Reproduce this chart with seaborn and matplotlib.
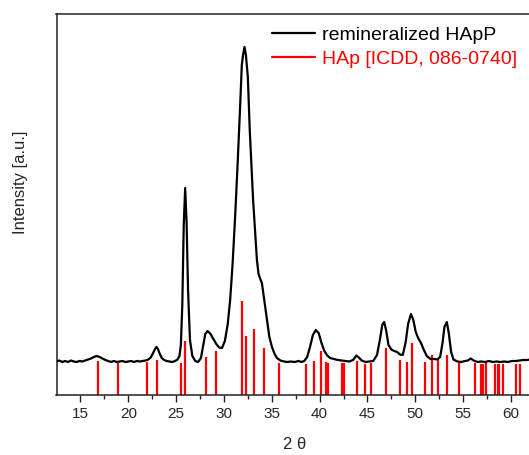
import matplotlib
matplotlib.use("Agg")
import matplotlib.pyplot as plt
import seaborn as sns
import pandas as pd
from matplotlib.lines import Line2D

# ---- data (intensity in arbitrary units) ----
two_theta = [12.5, 12.8, 13.1, 13.4, 13.7, 14.0, 14.3, 14.6, 14.9, 15.2, 15.5, 15.8,
             16.1, 16.4, 16.7, 17.0, 17.3, 17.6, 17.9, 18.2, 18.5, 18.8, 19.1, 19.4,
             19.7, 20.0, 20.3, 20.6, 20.9, 21.2, 21.5, 21.8, 22.1, 22.35, 22.6, 22.8,
             22.95, 23.1, 23.3, 23.5, 23.75, 24.0, 24.3, 24.6, 24.9, 25.15, 25.35, 25.5,
             25.65, 25.8, 25.95, 26.1, 26.25, 26.45, 26.7, 27.0, 27.3, 27.6, 27.85, 28.05,
             28.3, 28.6, 28.9, 29.2, 29.5, 29.8, 30.1, 30.4, 30.65, 30.9, 31.17, 31.45,
             31.7, 31.87, 32.0, 32.15, 32.3, 32.5, 32.7, 32.85, 33.05, 33.27, 33.45, 33.62,
             33.8, 33.97, 34.2, 34.5, 34.75, 35.02, 35.3, 35.54, 35.9, 36.3, 36.6, 37.0,
             37.4, 37.8, 38.1, 38.4, 38.7, 39.0, 39.3, 39.6, 39.9, 40.2, 40.5, 40.8,
             41.1, 41.5, 41.9, 42.3, 42.7, 43.1, 43.5, 43.85, 44.1, 44.4, 44.8, 45.2,
             45.6, 46.0, 46.3, 46.55, 46.75, 46.95, 47.2, 47.5, 47.8, 48.1, 48.4, 48.7,
             49.0, 49.25, 49.55, 49.8, 50.05, 50.3, 50.6, 50.9, 51.2, 51.6, 52.0, 52.3,
             52.6, 52.85, 53.05, 53.3, 53.5, 53.75, 54.0, 54.4, 54.8, 55.2, 55.5, 55.8,
             56.1, 56.5, 56.9, 57.3, 57.7, 58.1, 58.5, 58.9, 59.3, 59.7, 60.1, 60.5,
             60.9, 61.3, 61.7, 62.0]
counts = [33.5, 34.5, 33.0, 34.0, 33.0, 34.5, 33.5, 33.0, 34.0, 33.5, 34.5, 35.5,
          36.5, 38.0, 39.0, 38.0, 36.5, 35.0, 34.0, 33.0, 34.0, 33.0, 33.5, 34.0,
          33.0, 33.5, 34.0, 33.0, 34.0, 33.5, 34.0, 34.5, 35.5, 37.5, 42.0, 46.0,
          48.0, 46.0, 41.0, 37.0, 35.0, 34.0, 33.5, 33.0, 34.0, 35.5, 39.0, 50.0,
          90.0, 170.0, 207.0, 172.0, 105.0, 55.0, 39.0, 34.0, 33.0, 37.0, 50.0, 61.0,
          64.0, 61.0, 56.0, 51.0, 47.5, 47.0, 54.0, 71.0, 95.0, 130.0, 178.0, 235.0,
          290.0, 330.0, 340.0, 348.0, 340.0, 318.0, 265.0, 235.0, 195.0, 162.0, 135.0, 121.0,
          116.0, 112.0, 96.0, 75.0, 58.0, 48.0, 41.0, 37.0, 34.5, 33.5, 33.0, 33.5,
          33.0, 34.0, 33.0, 34.0, 38.0, 48.0, 60.0, 65.0, 62.0, 52.0, 44.0, 39.5,
          37.0, 36.0, 35.0, 34.5, 34.0, 33.5, 35.0, 39.5, 37.5, 34.5, 33.0, 33.5,
          34.0, 40.0, 55.0, 70.0, 73.0, 65.0, 50.0, 45.5, 44.0, 43.0, 40.5, 40.0,
          53.0, 71.0, 81.0, 75.0, 63.0, 57.0, 52.0, 45.0, 39.0, 36.0, 36.0, 35.5,
          38.0, 52.0, 68.0, 73.0, 62.0, 43.0, 35.5, 33.5, 33.0, 34.0, 34.5, 36.5,
          34.5, 33.0, 33.5, 33.0, 34.0, 33.0, 33.5, 33.0, 33.5, 33.0, 34.0, 34.0,
          34.5, 35.0, 35.0, 35.5]

ref_pos = [16.84, 18.90, 21.92, 22.97, 25.48, 25.90, 28.13, 29.17, 31.94, 32.30,
           33.17, 34.21, 35.75, 38.54, 39.42, 40.16, 40.71, 40.92, 42.36, 42.57,
           43.93, 44.77, 45.40, 46.97, 48.40, 49.10, 49.65, 50.99, 51.73, 52.42,
           53.29, 54.55, 56.26, 56.82, 57.03, 57.38, 58.32, 58.61, 58.77, 59.19,
           60.56, 60.98]
ref_int = [34, 32, 33, 35, 32, 54, 38, 44, 94, 59,
           66, 47, 32, 31, 34, 44, 33, 32, 32, 32,
           34, 31, 32, 47, 35, 33, 52, 33, 40, 37,
           40, 32, 32, 31, 31, 32, 31, 31, 31, 31,
           31, 31]

x_ticks = [15, 20, 25, 30, 35, 40, 45, 50, 55, 60]
series_labels = ["remineralized HApP", "HAp [ICDD, 086-0740]"]

# ---- plotting ----
sns.set_theme(style="white")
plt.rcParams['font.family'] = ['Liberation Sans', 'DejaVu Sans']

fig = plt.figure(figsize=(5.29, 4.55), dpi=100)
ax_w = 1 - 56.5 / 529 + 0.002
ax = fig.add_axes([56.5 / 529, 60 / 455, ax_w, 381 / 455])

df = pd.DataFrame({"two_theta": two_theta, "counts": counts})
sns.lineplot(data=df, x="two_theta", y="counts", color="black", linewidth=1.6,
             ax=ax, zorder=3, sort=True)
ax.vlines(ref_pos, 0, ref_int, colors="#ff0000", linewidth=1.6, zorder=2)

ax.set_xlim(12.5, 62)
ax.set_ylim(0, 381)
ax.set_xticks(x_ticks)
ax.set_xticks([t + 2.5 for t in [12.5] + x_ticks if t + 2.5 <= 62], minor=True)
ax.set_yticks([])
ax.tick_params(axis="x", which="major", direction="out", length=5, width=1.0,
               color="#222222", labelsize=11, pad=4, bottom=True)
ax.tick_params(axis="x", which="minor", direction="out", length=3, width=1.0,
               color="#222222", bottom=True)
for side in ["left", "bottom", "top"]:
    ax.spines[side].set_visible(True)
    ax.spines[side].set_color("#222222")
    ax.spines[side].set_linewidth(1.1)
ax.spines["right"].set_visible(False)

ax.set_xlabel("2 θ", fontsize=12)
ax.set_ylabel("Intensity [a.u.]", fontsize=12)
ax.xaxis.set_label_coords((295 - 56.5) / (529 * ax_w), -(437 - 395) / 381)
ax.xaxis.label.set_va("top")
ax.yaxis.set_label_coords((28 - 56.5) / (529 * ax_w), (395 - 182) / 381)

handles = [Line2D([], [], color="black", linewidth=1.6),
           Line2D([], [], color="#ff0000", linewidth=1.6)]
leg = fig.legend(handles, series_labels, loc="upper left",
                 bbox_to_anchor=(272 / 529, 1 - 26 / 455), frameon=False,
                 fontsize=14, handlelength=2.2, handletextpad=0.35,
                 labelspacing=0.36, borderpad=0, borderaxespad=0)
for txt, col in zip(leg.get_texts(), ["black", "#ff0000"]):
    txt.set_color(col)

fig.savefig("out.png", dpi=100)
